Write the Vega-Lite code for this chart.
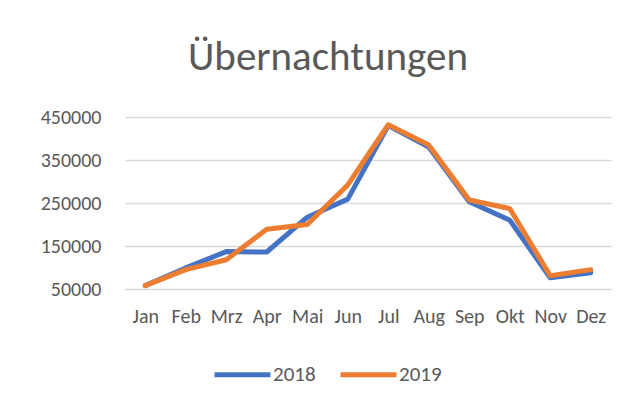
{
  "$schema": "https://vega.github.io/schema/vega-lite/v6.json",
  "width": 486,
  "height": 172,
  "autosize": {"type": "none"},
  "padding": {"left": 125, "top": 117, "right": 28, "bottom": 116},
  "background": "white",
  "title": {
    "text": "Übernachtungen",
    "anchor": "middle",
    "frame": "group",
    "dx": -40,
    "dy": 6,
    "offset": 2,
    "baseline": "alphabetic",
    "font": "Carlito, Lato, sans-serif",
    "fontSize": 41,
    "fontWeight": "normal",
    "color": "#595959"
  },
  "data": {
    "values": [
      {"Monat": "Jan", "Jahr": "2018", "Wert": 58000},
      {"Monat": "Feb", "Jahr": "2018", "Wert": 99000},
      {"Monat": "Mrz", "Jahr": "2018", "Wert": 137000},
      {"Monat": "Apr", "Jahr": "2018", "Wert": 136000},
      {"Monat": "Mai", "Jahr": "2018", "Wert": 217000},
      {"Monat": "Jun", "Jahr": "2018", "Wert": 259000},
      {"Monat": "Jul", "Jahr": "2018", "Wert": 430000},
      {"Monat": "Aug", "Jahr": "2018", "Wert": 380000},
      {"Monat": "Sep", "Jahr": "2018", "Wert": 253000},
      {"Monat": "Okt", "Jahr": "2018", "Wert": 210000},
      {"Monat": "Nov", "Jahr": "2018", "Wert": 76000},
      {"Monat": "Dez", "Jahr": "2018", "Wert": 88000},
      {"Monat": "Jan", "Jahr": "2019", "Wert": 58000},
      {"Monat": "Feb", "Jahr": "2019", "Wert": 95000},
      {"Monat": "Mrz", "Jahr": "2019", "Wert": 118000},
      {"Monat": "Apr", "Jahr": "2019", "Wert": 189000},
      {"Monat": "Mai", "Jahr": "2019", "Wert": 200000},
      {"Monat": "Jun", "Jahr": "2019", "Wert": 292000},
      {"Monat": "Jul", "Jahr": "2019", "Wert": 432000},
      {"Monat": "Aug", "Jahr": "2019", "Wert": 385000},
      {"Monat": "Sep", "Jahr": "2019", "Wert": 257000},
      {"Monat": "Okt", "Jahr": "2019", "Wert": 237000},
      {"Monat": "Nov", "Jahr": "2019", "Wert": 81000},
      {"Monat": "Dez", "Jahr": "2019", "Wert": 95000}
    ]
  },
  "mark": {"type": "line", "strokeWidth": 5, "strokeCap": "round", "strokeJoin": "round"},
  "encoding": {
    "x": {
      "field": "Monat",
      "type": "nominal",
      "sort": null,
      "scale": {"type": "point", "padding": 0.5},
      "axis": {
        "title": null,
        "labelAngle": 0,
        "domain": false,
        "ticks": false,
        "grid": false,
        "labelPadding": 17,
        "labelFontSize": 20,
        "labelColor": "#595959",
        "labelFont": "Carlito, Lato, sans-serif"
      }
    },
    "y": {
      "field": "Wert",
      "type": "quantitative",
      "scale": {"domain": [50000, 450000], "nice": false, "zero": false},
      "axis": {
        "title": null,
        "values": [50000, 150000, 250000, 350000, 450000],
        "format": "d",
        "domain": false,
        "ticks": false,
        "grid": true,
        "gridColor": "#d9d9d9",
        "gridWidth": 1.3,
        "labelPadding": 24,
        "labelFontSize": 20,
        "labelColor": "#595959",
        "labelFont": "Carlito, Lato, sans-serif"
      }
    },
    "color": {
      "field": "Jahr",
      "type": "nominal",
      "scale": {"domain": ["2018", "2019"], "range": ["#4472C4", "#ED7D31"]},
      "legend": {
        "title": null,
        "orient": "none",
        "direction": "horizontal",
        "legendX": 87,
        "legendY": 227,
        "symbolType": "stroke",
        "symbolSize": 3136,
        "symbolStrokeWidth": 5,
        "labelFontSize": 21,
        "labelColor": "#595959",
        "labelFont": "Carlito, Lato, sans-serif",
        "labelOffset": 0,
        "columnPadding": 14
      }
    }
  },
  "config": {"view": {"stroke": null}}
}
